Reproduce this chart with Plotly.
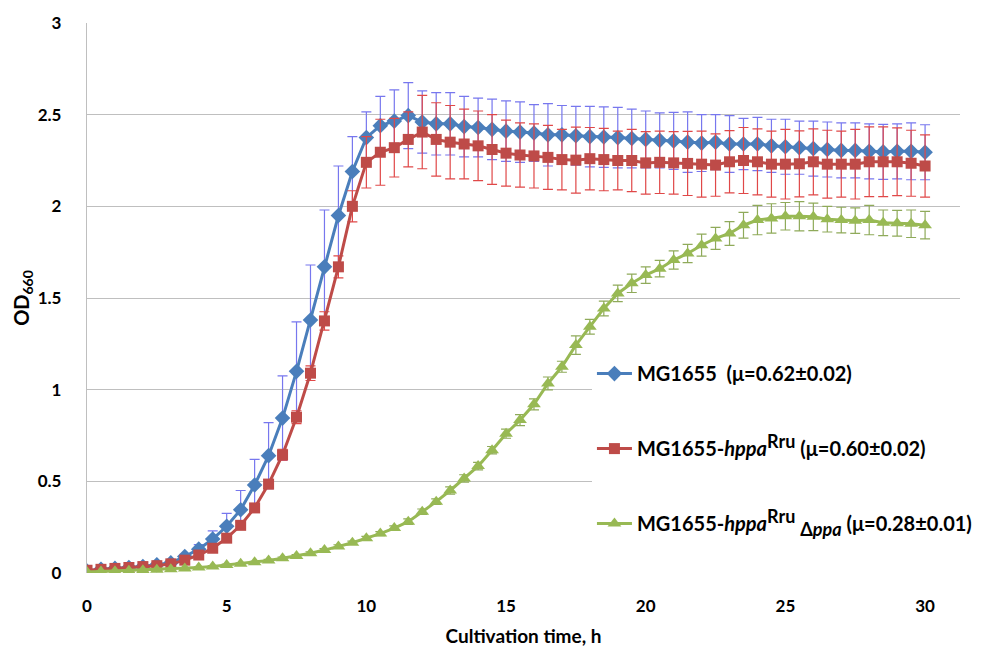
import plotly.graph_objects as go

time_h = [0, 0.5, 1, 1.5, 2, 2.5, 3, 3.5, 4, 4.5, 5, 5.5, 6, 6.5, 7, 7.5, 8, 8.5, 9, 9.5,
          10, 10.5, 11, 11.5, 12, 12.5, 13, 13.5, 14, 14.5, 15, 15.5, 16, 16.5, 17, 17.5,
          18, 18.5, 19, 19.5, 20, 20.5, 21, 21.5, 22, 22.5, 23, 23.5, 24, 24.5, 25, 25.5,
          26, 26.5, 27, 27.5, 28, 28.5, 29, 29.5, 30]

mg1655 = [0.01, 0.02, 0.025, 0.03, 0.035, 0.045, 0.055, 0.09, 0.13, 0.185, 0.255, 0.345,
          0.48, 0.64, 0.845, 1.10, 1.38, 1.67, 1.95, 2.19, 2.375, 2.44, 2.465, 2.495, 2.46,
          2.45, 2.45, 2.435, 2.43, 2.42, 2.41, 2.405, 2.40, 2.39, 2.39, 2.385, 2.38, 2.378,
          2.375, 2.37, 2.365, 2.36, 2.357, 2.35, 2.345, 2.35, 2.34, 2.34, 2.34, 2.33, 2.325,
          2.32, 2.315, 2.31, 2.305, 2.305, 2.30, 2.297, 2.30, 2.30, 2.295]
mg1655_err = [0.005, 0.005, 0.005, 0.005, 0.005, 0.007, 0.008, 0.012, 0.025, 0.045, 0.07,
              0.105, 0.14, 0.18, 0.23, 0.27, 0.30, 0.31, 0.27, 0.19, 0.14, 0.16, 0.17, 0.18,
              0.17, 0.17, 0.17, 0.165, 0.16, 0.165, 0.165, 0.165, 0.155, 0.17, 0.16, 0.16,
              0.165, 0.165, 0.165, 0.16, 0.155, 0.15, 0.155, 0.165, 0.155, 0.15, 0.155, 0.14,
              0.145, 0.145, 0.15, 0.145, 0.15, 0.15, 0.15, 0.15, 0.15, 0.15, 0.15, 0.155, 0.15]

hppa = [0.015, 0.02, 0.025, 0.03, 0.035, 0.04, 0.05, 0.07, 0.098, 0.135, 0.19, 0.26, 0.355,
        0.485, 0.645, 0.85, 1.09, 1.375, 1.67, 2.00, 2.24, 2.295, 2.32, 2.365, 2.405, 2.365,
        2.35, 2.34, 2.33, 2.31, 2.29, 2.28, 2.275, 2.267, 2.255, 2.252, 2.26, 2.255, 2.25,
        2.25, 2.237, 2.24, 2.237, 2.234, 2.23, 2.225, 2.243, 2.25, 2.243, 2.23, 2.23, 2.232,
        2.243, 2.23, 2.23, 2.23, 2.243, 2.243, 2.243, 2.235, 2.22]
hppa_err = [0.005, 0.005, 0.005, 0.005, 0.005, 0.005, 0.006, 0.008, 0.01, 0.012, 0.015, 0.018,
            0.02, 0.025, 0.03, 0.035, 0.04, 0.05, 0.06, 0.085, 0.14, 0.18, 0.16, 0.15, 0.2,
            0.2, 0.2, 0.19, 0.19, 0.19, 0.18, 0.175, 0.175, 0.175, 0.165, 0.18, 0.17, 0.17,
            0.16, 0.17, 0.17, 0.17, 0.17, 0.175, 0.18, 0.17, 0.17, 0.18, 0.18, 0.18, 0.19,
            0.18, 0.18, 0.185, 0.18, 0.19, 0.19, 0.19, 0.185, 0.18, 0.17]

dppa = [0.005, 0.008, 0.01, 0.012, 0.015, 0.018, 0.021, 0.025, 0.03, 0.036, 0.043, 0.05,
        0.058, 0.068, 0.08, 0.093, 0.108, 0.125, 0.145, 0.165, 0.19, 0.215, 0.245, 0.28,
        0.334, 0.389, 0.45, 0.516, 0.583, 0.67, 0.76, 0.834, 0.92, 1.034, 1.125, 1.243,
        1.343, 1.443, 1.525, 1.58, 1.625, 1.66, 1.707, 1.743, 1.788, 1.825, 1.852, 1.897,
        1.925, 1.934, 1.946, 1.946, 1.943, 1.93, 1.925, 1.922, 1.925, 1.91, 1.908, 1.905, 1.897]
dppa_err = [0.003, 0.003, 0.003, 0.003, 0.003, 0.003, 0.004, 0.004, 0.004, 0.005, 0.005, 0.005,
            0.006, 0.006, 0.007, 0.007, 0.008, 0.008, 0.009, 0.009, 0.01, 0.011, 0.012, 0.015,
            0.015, 0.015, 0.02, 0.02, 0.02, 0.02, 0.025, 0.03, 0.03, 0.035, 0.03, 0.05, 0.04,
            0.04, 0.045, 0.05, 0.045, 0.045, 0.05, 0.05, 0.06, 0.06, 0.065, 0.07, 0.08, 0.08,
            0.075, 0.08, 0.075, 0.07, 0.07, 0.07, 0.08, 0.07, 0.07, 0.075, 0.075]

names = [
    "<b>MG1655  (μ=0.62±0.02)</b>",
    "<b>MG1655-<i>hppa</i><sup><span style=\"font-size:18px\">Rru</span></sup> (μ=0.60±0.02)</b>",
    "<b>MG1655-<i>hppa</i><sup><span style=\"font-size:18px\">Rru</span></sup> "
    "<sub><span style=\"font-size:18px\">Δ<i>ppa</i></span></sub> (μ=0.28±0.01)</b>",
]

y_ticks = [0, 0.5, 1, 1.5, 2, 2.5, 3]
y_tick_text = ["0", "0.5", "1", "1.5", "2", "2.5", "3"]
x_ticks = [0, 5, 10, 15, 20, 25, 30]

FONT = "Lato, 'Open Sans', sans-serif"

series = [
    (mg1655, mg1655_err, "#4A7EBB", "#7777EE", "diamond", 12),
    (hppa, hppa_err, "#BE4B48", "#E04848", "square", 11),
    (dppa, dppa_err, "#98B954", "#8FAA5A", "triangle-up", 12),
]

fig = go.Figure()
for i, (vals, errs, col, ecol, sym, size) in enumerate(series):
    fig.add_trace(go.Scatter(
        x=time_h, y=vals, name=names[i], mode="lines+markers",
        legendgroup=f"g{i}",
        line=dict(color=col, width=3),
        marker=dict(symbol=sym, size=size, color=col, line=dict(width=0)),
        error_y=dict(type="data", array=errs, visible=True, color=ecol,
                     thickness=1.2, width=5),
    ))

fig.update_layout(
    width=981, height=642,
    margin=dict(l=79, r=29, t=15, b=77),
    paper_bgcolor="white", plot_bgcolor="white",
    font=dict(family=FONT, size=16, color="black"),
    showlegend=True,
    legend=dict(
        x=0.5784, y=0.398, xanchor="left", yanchor="top",
        bgcolor="white", borderwidth=0,
        font=dict(family=FONT, size=20, color="black"),
        tracegroupgap=46, itemwidth=35,
    ),
    xaxis=dict(
        range=[0, 31.25], tickvals=x_ticks, showgrid=False, zeroline=False,
        showline=False, ticks="", ticklen=0, automargin=False,
        ticklabelstandoff=21,
        tickfont=dict(family=FONT, size=17, weight="bold"),
        title=dict(text="<b>Cultivation time, h</b>", font=dict(family=FONT, size=19), standoff=14),
    ),
    yaxis=dict(
        range=[0, 3], tickvals=y_ticks, ticktext=y_tick_text, automargin=False,
        showgrid=True, gridcolor="#BFBFBF", gridwidth=1.3, zeroline=False,
        showline=True, linecolor="#BFBFBF", linewidth=1.3, ticks="",
        ticklabelstandoff=21,
        tickfont=dict(family=FONT, size=17, weight="bold"),
        title=dict(text="<b>OD<sub>660</sub></b>", font=dict(family=FONT, size=20), standoff=2),
    ),
)

fig.write_html("out.html")
